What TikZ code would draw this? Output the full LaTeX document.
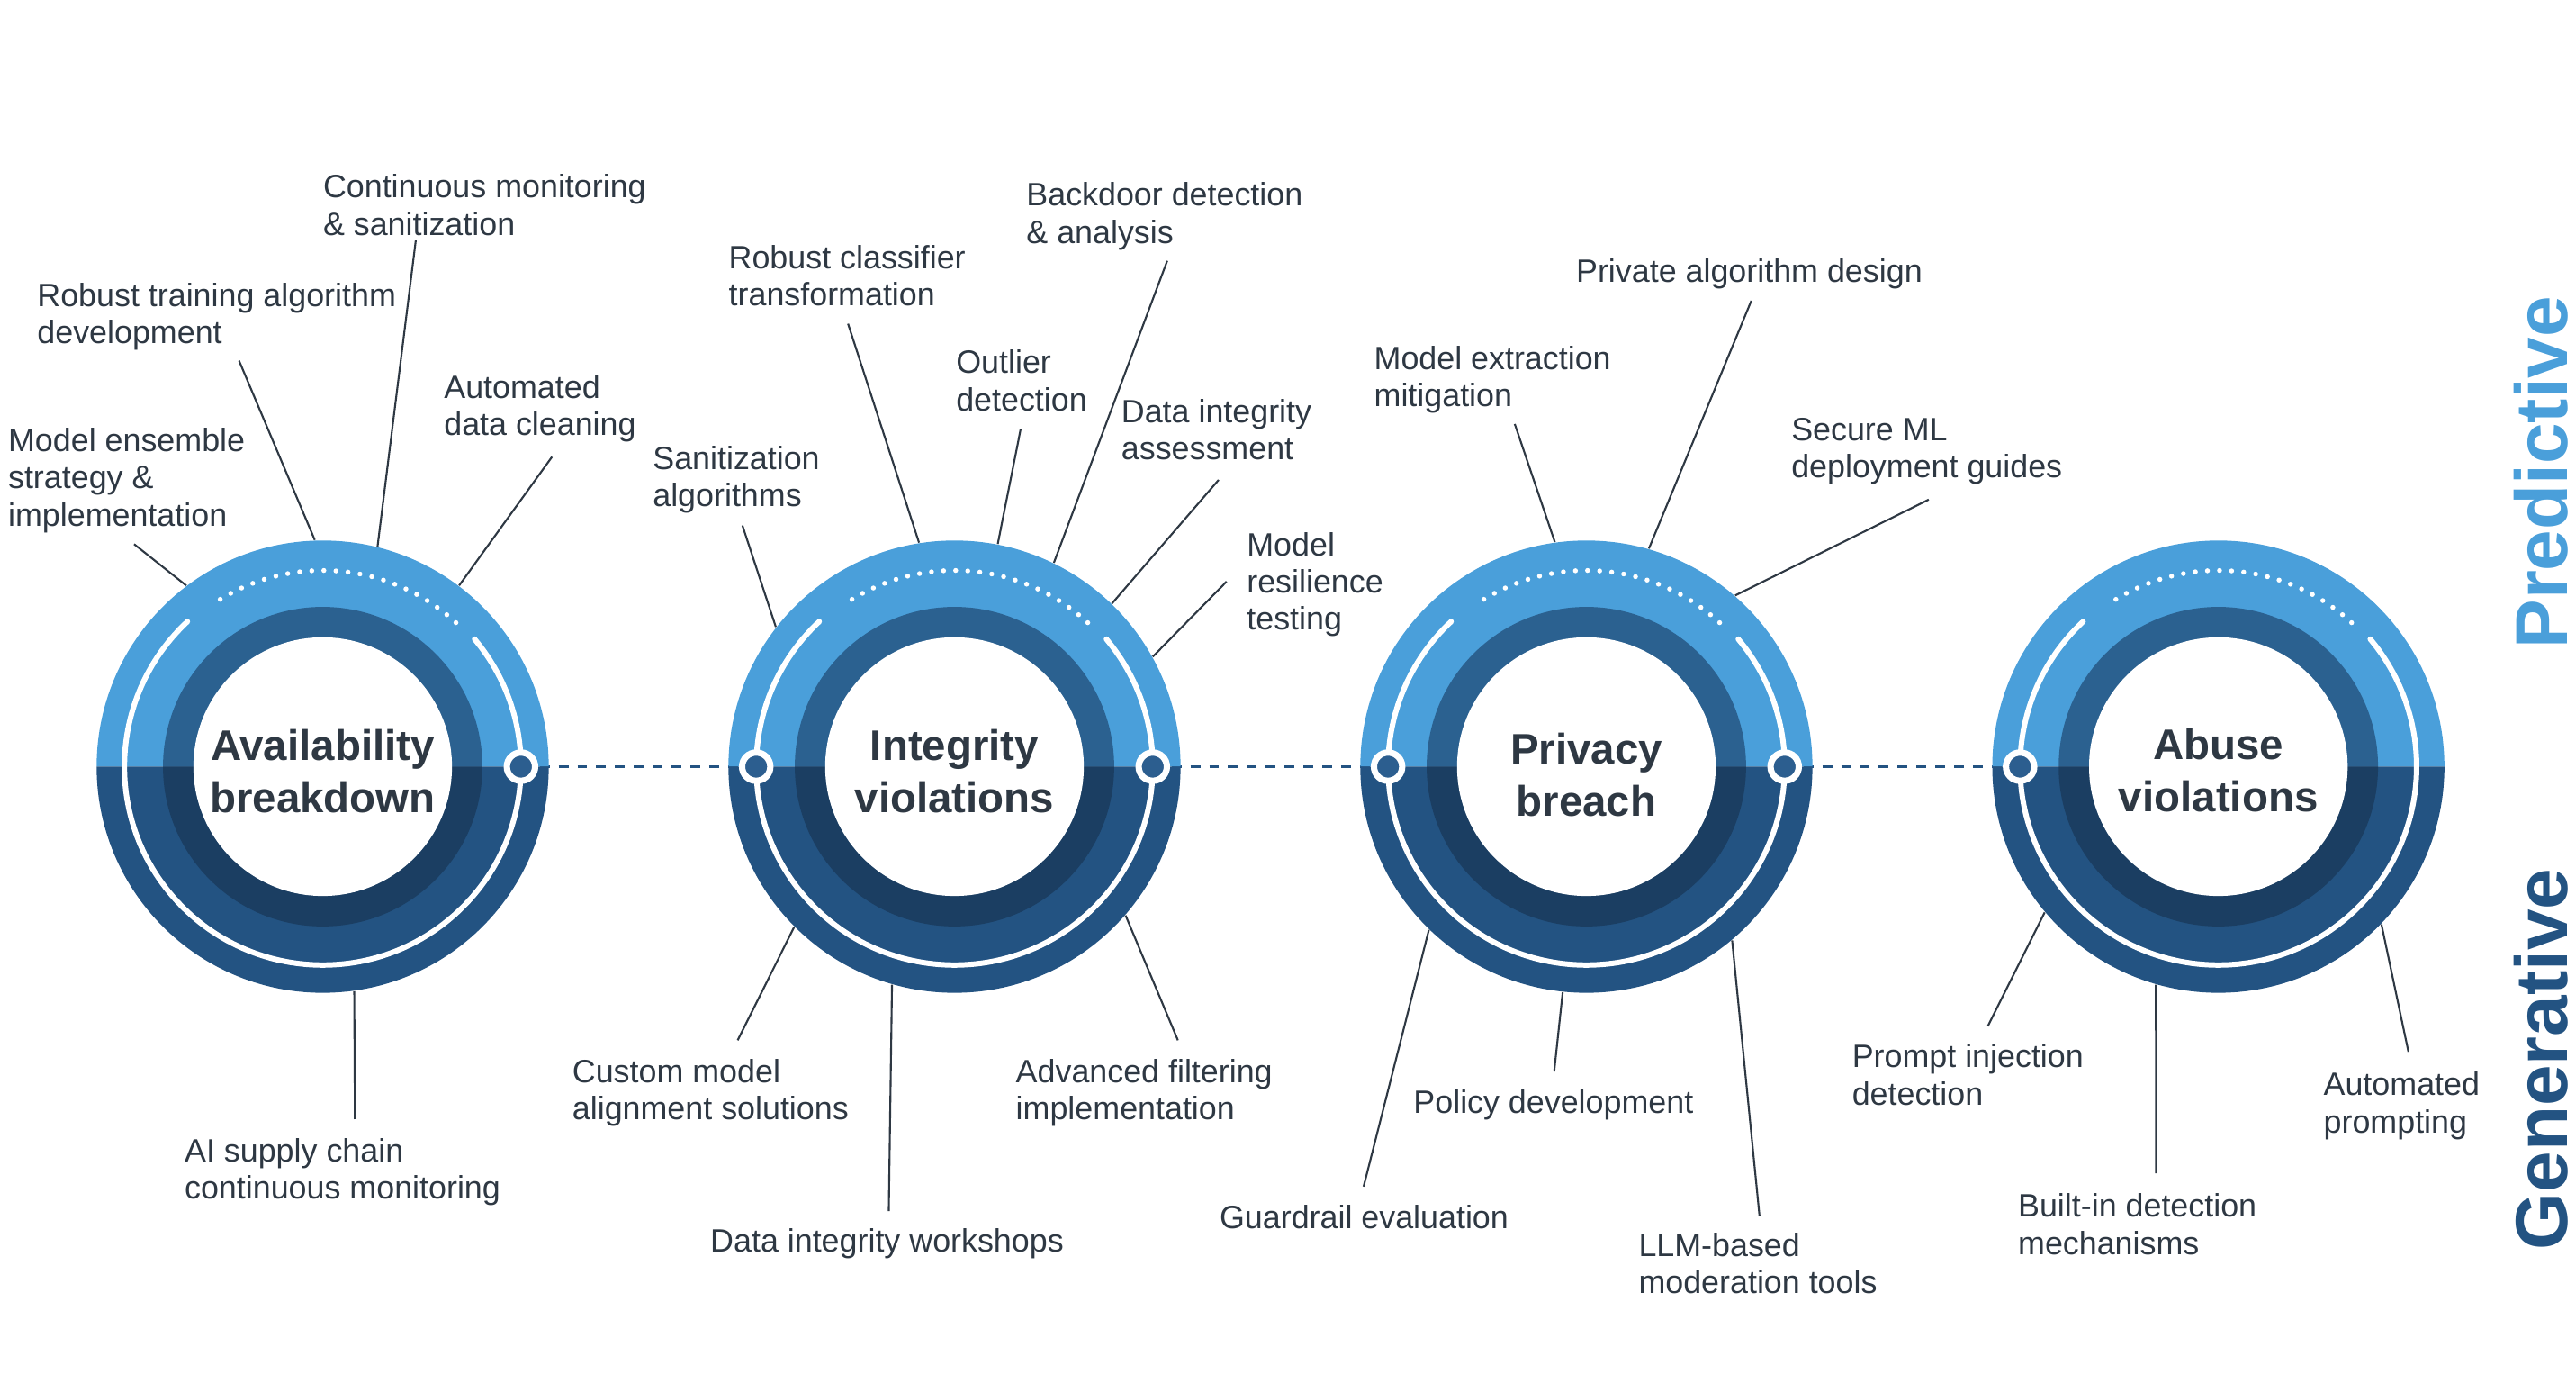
\documentclass[tikz,border=0pt]{standalone}
\usepackage{fontspec}
\setmainfont{Liberation Sans}
\usetikzlibrary{calc}

\begin{document}
\begin{tikzpicture}[x=0.018253cm,y=0.018253cm,
  label/.style={anchor=north west,inner sep=0,align=left,text=labeltext,font=\fontsize{10.2}{11.75}\selectfont},
  leader/.style={draw=labeltext,line width=0.6pt},
  hub/.style={circle,inner sep=0,minimum size=5.023cm},
  title/.style={inner sep=0,align=center,text=labeltext,font=\bfseries\fontsize{13.5}{16.5}\selectfont},
  knot/.style={circle,inner sep=0,minimum size=0.314cm,draw=white,line width=2pt,fill=knotcolor},
  link/.style={draw=ringbottom,line width=0.95pt,dash pattern=on 3.1pt off 2.85pt},
  side/.style={rotate=90,inner sep=0,font=\bfseries\fontsize{23.3}{28}\selectfont}]

\definecolor{ringtop}{RGB}{74, 159, 218}
\definecolor{ringbottom}{RGB}{35, 83, 130}
\definecolor{midtop}{RGB}{43, 97, 144}
\definecolor{midbottom}{RGB}{27, 62, 98}
\definecolor{knotcolor}{RGB}{44, 94, 143}
\definecolor{labeltext}{RGB}{46, 56, 67}

\useasboundingbox (0,0) rectangle (1568,841.5);

\def\outerrad{137.6}
\def\trackrad{120.7}
\def\dotrad{119.4}
\def\midrad{97.2}
\def\corerad{78.7}
\def\hubY{375}

% THE DASHED LINKS (behind the rings)
\coordinate (k1r) at ({196.4+\trackrad},\hubY);
\coordinate (k2l) at ({581-\trackrad},\hubY);
\coordinate (k2r) at ({581+\trackrad},\hubY);
\coordinate (k3l) at ({965.6-\trackrad},\hubY);
\coordinate (k3r) at ({965.6+\trackrad},\hubY);
\coordinate (k4l) at ({1350.3-\trackrad},\hubY);
\draw[link] (k1r) -- (k2l);
\draw[link] (k2r) -- (k3l);
\draw[link] (k3r) -- (k4l);

% DRAW THE RINGS
\foreach \cx in {196.4,581,965.6,1350.3} {
  \fill[ringtop] (\cx,\hubY) ++(\outerrad,0) arc (0:180:\outerrad) -- cycle;
  \fill[ringbottom] (\cx,\hubY) ++(-\outerrad,0) arc (180:360:\outerrad) -- cycle;
  \fill[midtop] (\cx,\hubY) ++(\midrad,0) arc (0:180:\midrad) -- cycle;
  \fill[midbottom] (\cx,\hubY) ++(-\midrad,0) arc (180:360:\midrad) -- cycle;
  \fill[white] (\cx,\hubY) circle (\corerad);
  \draw[white,line width=1.7pt,line cap=round] (\cx,\hubY) ++(40:\trackrad) arc (40:-227:\trackrad);
  \foreach \k in {0,...,21}
    \fill[white] (\cx,\hubY) ++({121.5-\k*3.538}:\dotrad) circle (1.5);
}

% THE HUBS, THEIR TITLES AND KNOTS
\node[hub] (avail) at (196.4,\hubY) {};
\node[hub] (integ) at (581,\hubY) {};
\node[hub] (privacy) at (965.6,\hubY) {};
\node[hub] (abuse) at (1350.3,\hubY) {};

\node[title] (availtitle) at ($(avail)+(0,-3)$) {Availability\\breakdown};
\node[title] (integtitle) at ($(integ)+(0,-3)$) {Integrity\\violations};
\node[title] (privacytitle) at ($(privacy)+(0,-4.9)$) {Privacy\\breach};
\node[title] (abusetitle) at ($(abuse)+(0,-2.5)$) {Abuse\\violations};

\node[knot] () at (k1r) {};
\node[knot] () at (k2l) {};
\node[knot] () at (k2r) {};
\node[knot] () at (k3l) {};
\node[knot] () at (k3r) {};
\node[knot] () at (k4l) {};

% LABELS OF "Availability breakdown"
\node[label] (ensemble) at (4.6,581.3) {Model ensemble\\strategy \&\\implementation};
\node[label] (robtrain) at (22.3,669.5) {Robust training algorithm\\development};
\node[label] (contmon) at (196.3,735.6) {Continuous monitoring\\\& sanitization};
\node[label] (autoclean) at (269.9,613.6) {Automated\\data cleaning};
\node[label] (supply) at (112,149) {AI supply chain\\continuous monitoring};

\coordinate (e1a) at (81.6,510.4);
\coordinate (e1b) at (145.5,622);
\coordinate (e1c) at (253.1,695.4);
\coordinate (e1d) at (336,563.5);
\coordinate (e1e) at (216,160.5);
\draw[leader] (e1a) -- (avail.127.5);
\draw[leader] (e1b) -- (avail.92);
\draw[leader] (e1c) -- (avail.76);
\draw[leader] (e1d) -- (avail.53);
\draw[leader] (e1e) -- (avail.-82);

% LABELS OF "Integrity violations"
\node[label] (sanit) at (397,570.5) {Sanitization\\algorithms};
\node[label] (robclass) at (443.2,692.5) {Robust classifier\\transformation};
\node[label] (outlier) at (581.6,628.8) {Outlier\\detection};
\node[label] (backdoor) at (624.4,730.8) {Backdoor detection\\\& analysis};
\node[label] (assess) at (682.2,599.1) {Data integrity\\assessment};
\node[label] (resil) at (758.6,517.9) {Model\\resilience\\testing};
\node[label] (custom) at (348,197.5) {Custom model\\alignment solutions};
\node[label] (workshop) at (432,94.5) {Data integrity workshops};
\node[label] (filter) at (618,197.5) {Advanced filtering\\implementation};

\coordinate (e2a) at (451.9,521.8);
\coordinate (e2b) at (516.2,644.5);
\coordinate (e2c) at (621.3,580.5);
\coordinate (e2d) at (710.5,682.8);
\coordinate (e2e) at (741.8,549.5);
\coordinate (e2f) at (746.6,487.6);
\coordinate (e2g) at (449,208.5);
\coordinate (e2h) at (541,104.5);
\coordinate (e2i) at (717,208.5);
\draw[leader] (e2a) -- (integ.142.3);
\draw[leader] (e2b) -- (integ.99.9);
\draw[leader] (e2c) -- (integ.79.6);
\draw[leader] (e2d) -- (integ.64.8);
\draw[leader] (e2e) -- (integ.46.8);
\draw[leader] (e2f) -- (integ.29.7);
\draw[leader] (e2g) -- (integ.-135.7);
\draw[leader] (e2h) -- (integ.-106.9);
\draw[leader] (e2i) -- (integ.-41.8);

% LABELS OF "Privacy breach"
\node[label] (extract) at (836,631.3) {Model extraction\\mitigation};
\node[label] (private) at (959,684.5) {Private algorithm design};
\node[label] (secure) at (1090,587.5) {Secure ML\\deployment guides};
\node[label] (guard) at (742,108.5) {Guardrail evaluation};
\node[label] (policy) at (860,178.5) {Policy development};
\node[label] (llm) at (997,91.5) {LLM-based\\moderation tools};

\coordinate (e3a) at (922,583.5);
\coordinate (e3b) at (1066,658.5);
\coordinate (e3c) at (1174,537.5);
\coordinate (e3d) at (830,119.5);
\coordinate (e3e) at (946,189.5);
\coordinate (e3f) at (1071,101.5);
\draw[leader] (e3a) -- (privacy.98.6);
\draw[leader] (e3b) -- (privacy.74.6);
\draw[leader] (e3c) -- (privacy.49);
\draw[leader] (e3d) -- (privacy.-134.7);
\draw[leader] (e3e) -- (privacy.-96);
\draw[leader] (e3f) -- (privacy.-50.8);

% LABELS OF "Abuse violations"
\node[label] (inject) at (1127,206.5) {Prompt injection\\detection};
\node[label] (builtin) at (1228,115.5) {Built-in detection\\mechanisms};
\node[label] (autoprompt) at (1414,189.5) {Automated\\prompting};

\coordinate (e4a) at (1210,217.1);
\coordinate (e4b) at (1312.4,127.5);
\coordinate (e4c) at (1466,201.5);
\draw[leader] (e4a) -- (abuse.-140);
\draw[leader] (e4b) -- (abuse.-106);
\draw[leader] (e4c) -- (abuse.-44);

% THE TWO SIDE WORDS
\node[side,text=ringtop] (predictive) at (1546.6,554) {Predictive};
\node[side,text=ringbottom] (generative) at (1546.6,197) {Generative};

\end{tikzpicture}
\end{document}
